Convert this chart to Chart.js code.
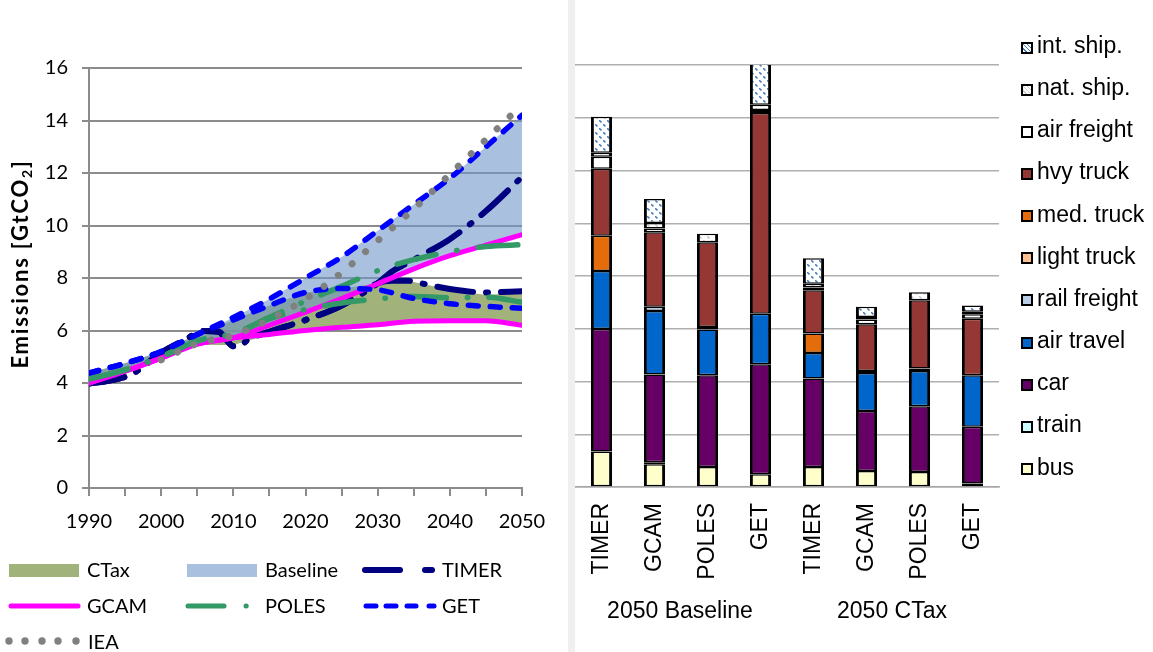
<!DOCTYPE html>
<html>
<head>
<meta charset="utf-8">
<script src="https://cdn.jsdelivr.net/npm/chart.js@4.4.1/dist/chart.umd.min.js"></script>
<style>
  html, body { margin: 0; padding: 0; background: #fff; }
  body { width: 1153px; height: 652px; position: relative; overflow: hidden; }
  #leftChart { position: absolute; left: 0; top: 0; }
  #rightChart { position: absolute; left: 575px; top: 0; }
  #sep { position: absolute; left: 568px; top: 0; width: 7px; height: 652px; background: #efefef; }
  .ytitle { position: absolute; left: 20px; top: 264px; transform: translate(-50%, -50%) rotate(-90deg);
            font: bold 22px Lato; letter-spacing: 1.8px; white-space: nowrap; color: #000; }
  .ytitle sub { font-size: 14px; vertical-align: -4px; }
  .lg { position: absolute; font: 20px Lato; line-height: 24px; color: #000; white-space: nowrap; }
  .rl { position: absolute; font: 23px "Liberation Sans", Arial, sans-serif; line-height: 26px; color: #000; white-space: nowrap; }
  .sw { position: absolute; width: 12px; height: 12px; box-sizing: border-box; border: 2px solid #000; }
  #legSvg { position: absolute; left: 0; top: 0; }
</style>
</head>
<body>
<div id="sep"></div>
<canvas id="leftChart" width="560" height="548"></canvas>
<canvas id="rightChart" width="578" height="652"></canvas>
<div class="ytitle">Emissions [GtCO<sub>2</sub>]</div>

<svg id="legSvg" width="560" height="652">
  <rect x="9" y="564" width="70" height="13" fill="#a1b37a"/>
  <rect x="187" y="564" width="70" height="13" fill="#a9c0de"/>
  <g stroke="#000080" stroke-width="6" stroke-linecap="round">
    <line x1="365" y1="570" x2="400" y2="570"/>
    <line x1="425" y1="570" x2="432" y2="570"/>
  </g>
  <line x1="11" y1="606" x2="78" y2="606" stroke="#ff00ff" stroke-width="5" stroke-linecap="round"/>
  <g stroke="#339966" stroke-width="5" stroke-linecap="round">
    <line x1="188" y1="606" x2="224" y2="606"/>
    <line x1="246" y1="606" x2="246.2" y2="606"/>
  </g>
  <g stroke="#0000ff" stroke-width="5" stroke-linecap="round">
    <line x1="366" y1="606" x2="376" y2="606"/>
    <line x1="386" y1="606" x2="396" y2="606"/>
    <line x1="407" y1="606" x2="416" y2="606"/>
    <line x1="429" y1="606" x2="434" y2="606"/>
  </g>
  <g fill="#808080">
    <circle cx="9" cy="641" r="3.7"/><circle cx="25" cy="641" r="3.7"/><circle cx="42" cy="641" r="3.7"/>
    <circle cx="58" cy="641" r="3.7"/><circle cx="76" cy="641" r="3.7"/>
  </g>
</svg>
<div class="lg" style="left:87px;top:557px">CTax</div>
<div class="lg" style="left:265px;top:557px">Baseline</div>
<div class="lg" style="left:442px;top:557px">TIMER</div>
<div class="lg" style="left:87px;top:593px">GCAM</div>
<div class="lg" style="left:265px;top:593px">POLES</div>
<div class="lg" style="left:442px;top:593px">GET</div>
<div class="lg" style="left:88px;top:629px">IEA</div>

<div id="rightLegend"></div>
<div class="rl" style="left:680px;top:597px;transform:translateX(-50%)">2050 Baseline</div>
<div class="rl" style="left:892px;top:597px;transform:translateX(-50%)">2050 CTax</div>

<script>
// ---------- left panel: emission pathways ----------
const lineYears = [1990, 1995, 2000, 2005, 2010, 2015, 2020, 2025, 2030, 2035, 2040, 2045, 2050];
const timerYears = [1990, 1993, 1996, 2000, 2003, 2006, 2008, 2009, 2010, 2011, 2012, 2015, 2020, 2025, 2030, 2032, 2034, 2036, 2040, 2045, 2050];
const timerBase = [3.98, 4.1, 4.35, 5.15, 5.6, 5.98, 5.95, 5.65, 5.4, 5.42, 5.65, 5.95, 6.4, 6.95, 7.8, 8.25, 8.55, 8.85, 9.48, 10.55, 11.85];
const timerCTax = [3.98, 4.1, 4.35, 5.15, 5.6, 5.98, 5.95, 5.65, 5.4, 5.42, 5.65, 5.95, 6.4, 6.95, 7.8, 7.9, 7.9, 7.8, 7.58, 7.45, 7.5];
const gcamBase = [4.0, 4.45, 4.95, 5.48, 5.72, 6.2, 6.7, 7.22, 7.78, 8.35, 8.85, 9.25, 9.65];
const gcamCTax = [4.0, 4.45, 4.95, 5.48, 5.72, 5.85, 6.0, 6.12, 6.22, 6.35, 6.37, 6.37, 6.2];
const polesBase = [4.15, 4.5, 5.0, 5.6, 5.88, 6.5, 7.12, 7.68, 8.28, 8.7, 9.0, 9.2, 9.27];
const polesCTax = [4.15, 4.5, 5.0, 5.6, 5.88, 6.45, 6.8, 7.05, 7.2, 7.3, 7.25, 7.27, 7.08];
const getBase = [4.38, 4.75, 5.2, 5.85, 6.5, 7.2, 8.0, 8.8, 9.8, 10.8, 11.8, 13.0, 14.2];
const getCTax = [4.38, 4.75, 5.2, 5.85, 6.4, 6.95, 7.45, 7.6, 7.55, 7.22, 7.02, 6.92, 6.85];
const ieaYears = [2000, 2005, 2010, 2015, 2020, 2025, 2030, 2035, 2040, 2045, 2050];
const ieaVals = [4.88, 5.5, 5.82, 6.42, 7.2, 8.2, 9.42, 10.63, 11.95, 13.27, 14.6];
// shaded ranges
const baseLow = [3.98, 4.35, 4.95, 5.45, 5.6, 6.2, 6.7, 7.22, 7.78, 8.35, 8.85, 9.25, 9.65];
const baseHigh = [4.38, 4.75, 5.2, 5.85, 6.5, 7.2, 8.0, 8.8, 9.8, 10.8, 11.8, 13.0, 14.2];
const ctaxLow = [3.98, 4.35, 4.95, 5.45, 5.45, 5.85, 6.0, 6.12, 6.22, 6.35, 6.37, 6.37, 6.2];
const ctaxHigh = [4.38, 4.75, 5.2, 5.85, 6.4, 6.95, 7.45, 7.6, 7.8, 7.85, 7.55, 7.35, 7.45];

// ---------- right panel: 2050 breakdown by mode ----------
const models = ['TIMER', 'GCAM', 'POLES', 'GET', 'TIMER', 'GCAM', 'POLES', 'GET'];
const bus = [1.35, 0.86, 0.76, 0.48, 0.76, 0.61, 0.57, 0.13];
const train = [null, 0.08, null, null, null, null, null, null];
const car = [4.64, 3.33, 3.48, 4.17, 3.35, 2.27, 2.49, 2.15];
const airTravel = [2.2, 2.4, 1.73, 1.92, 0.97, 1.44, 1.34, 1.96];
const railFreight = [null, 0.16, 0.1, null, null, 0.08, 0.09, null];
const lightTruck = [null, null, null, null, null, null, null, null];
const medTruck = [1.34, null, null, null, 0.74, null, null, null];
const hvyTruck = [2.54, 2.83, 3.21, 7.61, 1.64, 1.77, 2.59, 2.14];
const airFreight = [0.45, 0.14, null, 0.11, 0.1, 0.18, null, 0.17];
const natShip = [0.15, 0.21, 0.32, 0.2, 0.15, 0.1, 0.3, 0.09];
const intShip = [1.37, 0.91, null, 1.6, 0.96, 0.38, null, 0.24];

const pts = (xs, ys) => xs.map((x, i) => ({ x: x, y: ys[i] }));

function lineSet(label, xs, ys, color, width, dash, order) {
    return {
        label: label, data: pts(xs, ys), borderColor: color, borderWidth: width,
        borderDash: dash, borderCapStyle: 'round', borderJoinStyle: 'round',
        cubicInterpolationMode: 'monotone', pointRadius: 0, fill: false, order: order
    };
}
function edgeSet(label, ys, fill, color, order) {
    return {
        label: label, data: pts(lineYears, ys), borderColor: 'transparent', borderWidth: 0,
        pointRadius: 0, tension: 0, fill: fill, backgroundColor: color, order: order
    };
}

const leftFont = { family: 'Lato', size: 20 };
const axisGray = '#8c8c8c';

new Chart(document.getElementById('leftChart'), {
    type: 'line',
    data: {
        datasets: [
            lineSet('IEA', ieaYears, ieaVals, '#808080', 7, [0.01, 18], 1),
            lineSet('GET', lineYears, getBase, '#0000ff', 5.5, [10, 12], 2),
            lineSet('GET CTax', lineYears, getCTax, '#0000ff', 5.5, [10, 12], 3),
            lineSet('POLES', lineYears, polesBase, '#339966', 5.5, [40, 21, 0.5, 21], 4),
            lineSet('POLES CTax', lineYears, polesCTax, '#339966', 5.5, [40, 21, 0.5, 21], 5),
            lineSet('GCAM', lineYears, gcamBase, '#ff00ff', 5, [], 6),
            lineSet('GCAM CTax', lineYears, gcamCTax, '#ff00ff', 5, [], 7),
            lineSet('TIMER', timerYears, timerBase, '#000080', 6, [36, 13, 2, 13], 8),
            lineSet('TIMER CTax', timerYears, timerCTax, '#000080', 6, [36, 13, 2, 13], 9),
            edgeSet('Baseline', baseHigh, '+1', 'rgba(112,150,200,0.6)', 10),
            edgeSet('Baseline low', baseLow, false, 'transparent', 11),
            edgeSet('CTax', ctaxHigh, '+1', 'rgba(125,150,70,0.72)', 12),
            edgeSet('CTax low', ctaxLow, false, 'transparent', 13)
        ]
    },
    options: {
        responsive: false,
        animation: false,
        layout: { padding: { top: 68, right: 38, left: 0, bottom: 0 } },
        plugins: { legend: { display: false }, tooltip: { enabled: false } },
        scales: {
            x: {
                type: 'linear', min: 1990, max: 2050,
                ticks: {
                    stepSize: 5, autoSkip: false, maxRotation: 0, padding: 14, color: '#000', font: leftFont,
                    callback: v => (v % 10 === 0 ? String(v) : '')
                },
                grid: { drawOnChartArea: false, color: axisGray, lineWidth: 2, tickLength: 8 },
                border: { color: axisGray, width: 2 },
                afterFit: s => { s.height = 60; }
            },
            y: {
                min: 0, max: 16,
                ticks: { stepSize: 2, padding: 14, color: '#000', font: leftFont },
                grid: { color: axisGray, lineWidth: 2, tickLength: 7 },
                border: { color: axisGray, width: 2 },
                afterFit: s => { s.width = 89; }
            }
        }
    }
});

// hatch fills for shipping
function hatch(color) {
    const c = document.createElement('canvas');
    c.width = 8; c.height = 8;
    const g = c.getContext('2d');
    g.fillStyle = '#fff';
    g.fillRect(0, 0, 8, 8);
    g.fillStyle = color;
    [0, 1, 4, 5].forEach(i => g.fillRect(i, i, 1.6, 1.6));
    return g.createPattern(c, 'repeat');
}

const modes = [
    { label: 'bus', data: bus, color: '#ffffcc' },
    { label: 'train', data: train, color: '#ccffff' },
    { label: 'car', data: car, color: '#660066' },
    { label: 'air travel', data: airTravel, color: '#0066cc' },
    { label: 'rail freight', data: railFreight, color: '#b9cde5' },
    { label: 'light truck', data: lightTruck, color: '#fac090' },
    { label: 'med. truck', data: medTruck, color: '#e46c0a' },
    { label: 'hvy truck', data: hvyTruck, color: '#953735' },
    { label: 'air freight', data: airFreight, color: '#ffffff' },
    { label: 'nat. ship.', data: natShip, color: hatch('#c8c8c8'), swatch: 'repeating-linear-gradient(45deg,#fff 0 2px,#ccc 2px 3px)' },
    { label: 'int. ship.', data: intShip, color: hatch('#4a7ebb'), swatch: 'repeating-linear-gradient(45deg,#fff 0 2px,#4a7ebb 2px 3px)' }
];

new Chart(document.getElementById('rightChart'), {
    type: 'bar',
    data: {
        labels: models,
        datasets: modes.map(m => ({
            label: m.label, data: m.data, backgroundColor: m.color, borderColor: '#000',
            borderWidth: { top: 1.5, bottom: 1.5, left: 3, right: 3 }, borderSkipped: false,
            barPercentage: 0.4, categoryPercentage: 1.0
        }))
    },
    options: {
        responsive: false,
        animation: false,
        layout: { padding: { top: 65, right: 154, left: 0, bottom: 0 } },
        plugins: { legend: { display: false }, tooltip: { enabled: false } },
        scales: {
            x: {
                stacked: true,
                ticks: {
                    minRotation: 90, maxRotation: 90, autoSkip: false, padding: 16, color: '#000',
                    font: { family: 'Liberation Sans', size: 23 }
                },
                grid: { display: false, drawTicks: false },
                border: { display: true, color: '#a6a6a6', width: 1.5 },
                afterFit: s => { s.height = 165; }
            },
            y: {
                stacked: true, min: 0, max: 16,
                ticks: { stepSize: 2, display: false },
                grid: { color: '#b0b0b0', lineWidth: 1.5, drawTicks: false },
                border: { display: false },
                afterFit: s => { s.width = 0; }
            }
        }
    }
});

// right legend, top entry first
const legendBox = document.getElementById('rightLegend');
modes.slice().reverse().forEach((m, i) => {
    const top = 32 + i * 42.15;
    const bg = m.swatch || m.color;
    legendBox.innerHTML += `
        <div class="sw" style="left:1021px;top:${top + 9.5}px;background:${bg}"></div>
        <div class="rl" style="left:1037px;top:${top}px">${m.label}</div>`;
});
</script>
</body>
</html>
